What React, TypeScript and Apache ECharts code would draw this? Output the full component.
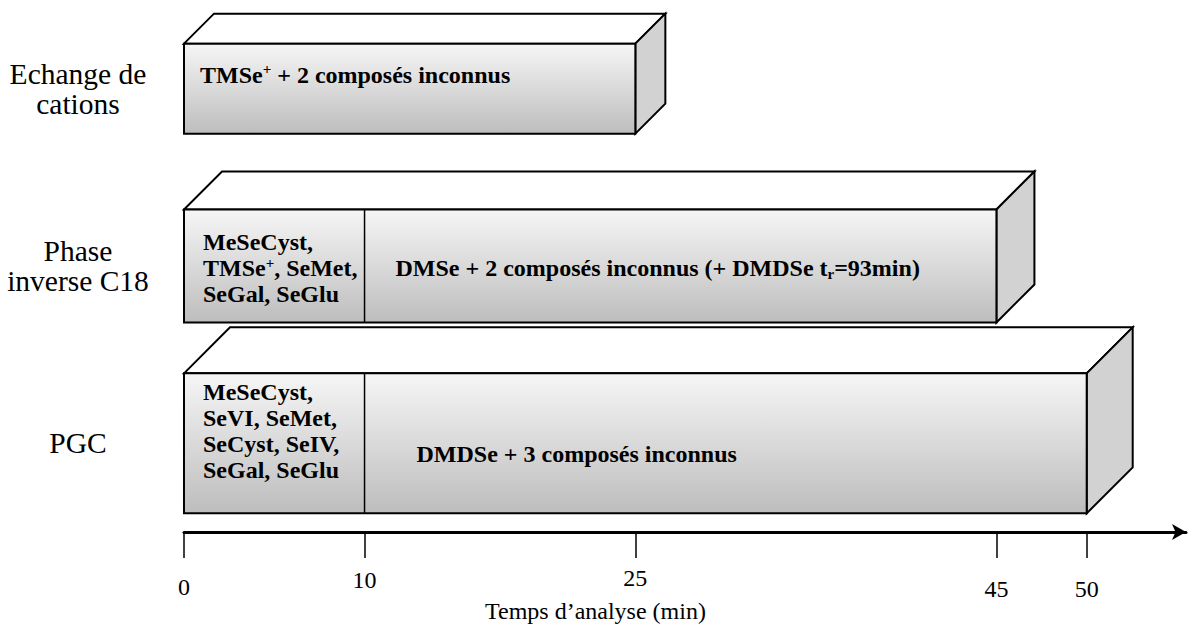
import React, { useEffect, useRef } from "react";
import * as echarts from "echarts";

// ---- data ----
const categories = ["Echange de\ncations", "Phase\ninverse C18", "PGC"];
const startTimes = [0, 0, 0];
const endTimes = [25, 45, 50];
const splitTimes: (number | null)[] = [null, 10, 10];
const earlyCompounds = [
  "",
  "MeSeCyst,\nTMSe{sup|+}, SeMet,\nSeGal, SeGlu",
  "MeSeCyst,\nSeVI, SeMet,\nSeCyst, SeIV,\nSeGal, SeGlu",
];
const lateCompounds = [
  "TMSe{sup|+} + 2 composés inconnus",
  "DMSe + 2 composés inconnus (+ DMDSe t{sub|r}=93min)",
  "DMDSe + 3 composés inconnus",
];
const tickValues = [0, 10, 25, 45, 50];
const axisMax = 55.5;
const axisTitle = "Temps d’analyse (min)";

// ---- styles / layout ----
const FONT = "Liberation Serif, Times New Roman, serif";
const FACE_HEIGHT = [90, 113, 140];
const DEPTH = [30, 38, 46];
const LATE_OFFSET = [
  [16, -14],
  [31, 2],
  [52, 11],
];
const EARLY_OFFSET = [
  [0, 0],
  [19, 2],
  [19, -12],
];
const LABEL_DROP: Record<number, number> = { 0: 18, 10: 4, 25: 0, 45: 22, 50: 22 };

export default function App() {
  const ref = useRef<HTMLDivElement>(null);

  useEffect(() => {
    if (!ref.current) return;
    const chart = echarts.init(ref.current, null, { renderer: "svg" });

    const rich = {
      sup: {
        fontFamily: FONT,
        fontSize: 15,
        fontWeight: "bold",
        fill: "#000",
        lineHeight: 12,
        verticalAlign: "top",
      },
      sub: {
        fontFamily: FONT,
        fontSize: 15,
        fontWeight: "bold",
        fill: "#000",
        lineHeight: 10,
        verticalAlign: "bottom",
      },
    };

    const textStyle = (text: string) => ({
      text,
      fontFamily: FONT,
      fontSize: 24,
      fontWeight: "bold",
      fill: "#000",
      lineHeight: 26,
      align: "left",
      verticalAlign: "middle",
      rich,
    });

    const renderItem = (params: any, api: any) => {
      const i = params.dataIndex;
      const cat = api.value(0);
      const s = api.coord([api.value(1), cat]);
      const e = api.coord([api.value(2), cat]);
      const h = FACE_HEIGHT[i];
      const d = DEPTH[i];
      const x0 = s[0];
      const x1 = e[0];
      const yc = s[1];
      const yT = yc - h / 2;
      const yB = yc + h / 2;
      const gradient = new echarts.graphic.LinearGradient(0, 0, 0, 1, [
        { offset: 0, color: "#f6f6f6" },
        { offset: 1, color: "#bdbdbd" },
      ]);
      const children: any[] = [
        {
          type: "polygon",
          shape: { points: [[x0, yT], [x0 + d, yT - d], [x1 + d, yT - d], [x1, yT]] },
          style: { fill: "#ffffff", stroke: "#000", lineWidth: 2 },
        },
        {
          type: "polygon",
          shape: { points: [[x1, yT], [x1 + d, yT - d], [x1 + d, yB - d], [x1, yB]] },
          style: { fill: "#d2d2d2", stroke: "#000", lineWidth: 2 },
        },
        {
          type: "rect",
          shape: { x: x0, y: yT, width: x1 - x0, height: h },
          style: { fill: gradient, stroke: "#000", lineWidth: 2 },
        },
      ];
      const split = splitTimes[i];
      let lateStart = x0;
      if (split !== null) {
        const xs = api.coord([split, cat])[0];
        lateStart = xs;
        children.push({
          type: "line",
          shape: { x1: xs, y1: yT, x2: xs, y2: yB },
          style: { stroke: "#000", lineWidth: 1.5 },
        });
        children.push({
          type: "text",
          x: x0 + EARLY_OFFSET[i][0],
          y: yc + EARLY_OFFSET[i][1],
          style: textStyle(earlyCompounds[i]),
        });
      }
      children.push({
        type: "text",
        x: lateStart + LATE_OFFSET[i][0],
        y: yc + LATE_OFFSET[i][1],
        style: textStyle(lateCompounds[i]),
      });
      return { type: "group", children };
    };

    const data = categories.map((_, i) => [i, startTimes[i], endTimes[i]]);

    const labelRich: Record<string, any> = {};
    tickValues.forEach((v) => {
      labelRich["t" + v] = {
        fontFamily: FONT,
        fontSize: 24,
        lineHeight: 23,
        color: "#000",
        padding: [LABEL_DROP[v] || 0, 0, 0, 0],
      };
    });

    chart.setOption({
      animation: false,
      backgroundColor: "#ffffff",
      title: {
        text: axisTitle,
        left: 485,
        top: 598,
        padding: 0,
        textStyle: {
          fontFamily: FONT,
          fontSize: 24,
          lineHeight: 26,
          fontWeight: "normal",
          color: "#000",
        },
      },
      grid: { left: 184, right: 8, top: -6, bottom: 96 },
      xAxis: {
        type: "value",
        min: 0,
        max: axisMax,
        splitLine: { show: false },
        axisLine: {
          show: true,
          lineStyle: { color: "#000", width: 3 },
          symbol: ["none", "arrow"],
          symbolSize: [12, 14],
        },
        axisTick: {
          show: true,
          customValues: tickValues,
          length: 26,
          lineStyle: { color: "#000", width: 1.5 },
        },
        axisLabel: {
          customValues: tickValues,
          margin: 34,
          formatter: (v: number) => `{t${v}|${v}}`,
          rich: labelRich,
        },
      },
      yAxis: {
        type: "category",
        data: categories,
        inverse: true,
        axisLine: { show: false },
        axisTick: { show: false },
        splitLine: { show: false },
        axisLabel: {
          margin: 106,
          align: "center",
          fontFamily: FONT,
          fontSize: 29.5,
          lineHeight: 30,
          color: "#000",
        },
      },
      series: [
        {
          type: "custom",
          renderItem,
          data,
          encode: { x: [1, 2], y: 0 },
          silent: true,
        },
      ],
    });

    return () => chart.dispose();
  }, []);

  return (
    <div
      ref={ref}
      style={{ position: "fixed", left: 0, top: 0, width: 1194, height: 628, background: "#fff" }}
    />
  );
}
